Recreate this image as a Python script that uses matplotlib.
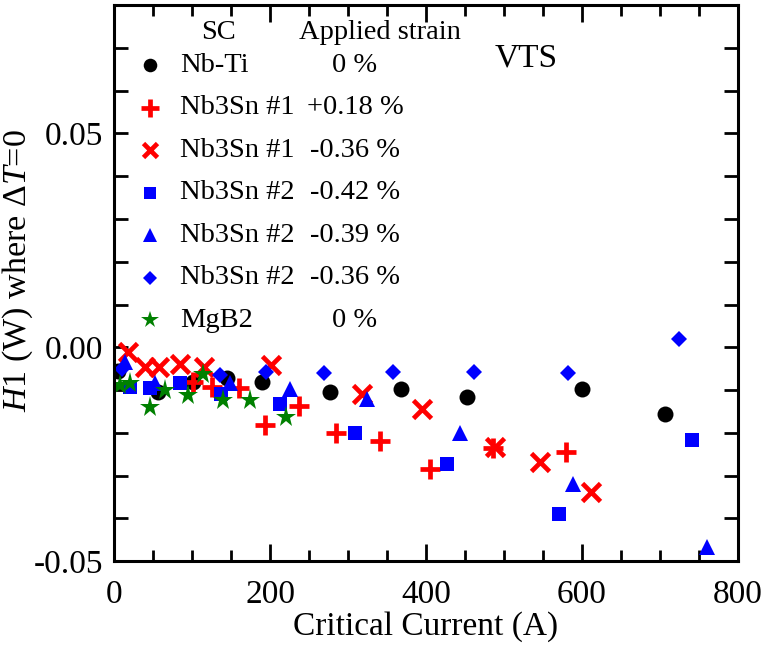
import matplotlib
matplotlib.use("Agg")
import matplotlib.pyplot as plt
from matplotlib.ticker import MultipleLocator

plt.rcParams['font.family'] = ['Liberation Serif', 'DejaVu Serif']
plt.rcParams['mathtext.fontset'] = 'custom'
plt.rcParams['mathtext.rm'] = 'Liberation Serif'
plt.rcParams['mathtext.it'] = 'Liberation Serif:italic'

# --- data (critical current A, H1 W) ---
nbti_x = [5, 56, 101, 145, 190, 277, 368, 452, 600, 706]
nbti_y = [-0.0055, -0.0105, -0.0082, -0.0072, -0.0082, -0.0105, -0.0098, -0.0117, -0.0098, -0.0157]

sn1p_x = [101, 126, 160, 194, 237, 285, 341, 405, 486, 579]
sn1p_y = [-0.0082, -0.0093, -0.0096, -0.0182, -0.0138, -0.0200, -0.0220, -0.0285, -0.0236, -0.0245]

sn1m_x = [18, 40, 58, 85, 115, 201, 318, 395, 488, 546, 611]
sn1m_y = [-0.0010, -0.0047, -0.0047, -0.0038, -0.0047, -0.0042, -0.0110, -0.0145, -0.0232, -0.0269, -0.0339]

sn2a_x = [21, 46, 85, 137, 213, 309, 427, 570, 741]
sn2a_y = [-0.0093, -0.0096, -0.0084, -0.0110, -0.0133, -0.0200, -0.0273, -0.0390, -0.0217]

sn2b_x = [14, 53, 149, 226, 324, 443, 589, 760]
sn2b_y = [-0.0035, -0.0084, -0.0084, -0.0098, -0.0120, -0.0200, -0.0320, -0.0467]

sn2c_x = [10, 136, 195, 269, 358, 462, 582, 724]
sn2c_y = [-0.0050, -0.0065, -0.0058, -0.0060, -0.0058, -0.0058, -0.0060, 0.0019]

mgb2_x = [8, 21, 46, 65, 95, 114, 140, 174, 220]
mgb2_y = [-0.0089, -0.0084, -0.0140, -0.0100, -0.0112, -0.0063, -0.0124, -0.0124, -0.0164]

sc_names = ['Nb-Ti', 'Nb3Sn #1', 'Nb3Sn #1', 'Nb3Sn #2', 'Nb3Sn #2', 'Nb3Sn #2', 'MgB2']
strains = ['0 %', '+0.18 %', '-0.36 %', '-0.42 %', '-0.39 %', '-0.36 %', '0 %']

series = [
    (nbti_x, nbti_y, dict(marker='o', color='black', ms=11.5, mew=0)),
    (sn1p_x, sn1p_y, dict(marker='+', color='red', ms=15, mew=3.4)),
    (sn1m_x, sn1m_y, dict(marker='x', color='red', ms=12.5, mew=3.4)),
    (sn2a_x, sn2a_y, dict(marker='s', color='blue', ms=10, mew=0)),
    (sn2b_x, sn2b_y, dict(marker='^', color='blue', ms=11.5, mew=0)),
    (sn2c_x, sn2c_y, dict(marker='D', color='blue', ms=8.5, mew=0)),
    (mgb2_x, mgb2_y, dict(marker='*', color='#008000', ms=15.5, mew=0)),
]

fig = plt.figure(figsize=(7.62, 6.45), dpi=100)
ax = fig.add_axes([0.1496, 0.130, 0.819, 0.862])

for x, y, st in series:
    ax.plot(x, y, linestyle='none', **st)

ax.set_xlim(0, 800)
ax.set_ylim(-0.05, 0.08)
ax.xaxis.set_major_locator(MultipleLocator(200))
ax.xaxis.set_minor_locator(MultipleLocator(50))
ax.yaxis.set_major_locator(MultipleLocator(0.05))
ax.yaxis.set_minor_locator(MultipleLocator(0.01))
ax.yaxis.set_major_formatter(plt.FormatStrFormatter('%.2f'))
ax.tick_params(which='both', direction='in', top=True, right=True, width=2, labelsize=24)
ax.tick_params(axis='x', which='major', length=12, pad=13)
ax.tick_params(axis='x', which='minor', length=8)
ax.tick_params(axis='y', which='both', length=10, pad=8)
for sp in ax.spines.values():
    sp.set_linewidth(2.2)

ax.set_xlabel('Critical Current (A)', fontsize=24, labelpad=1)
ax.set_ylabel(r'$\mathit{H1}$ (W) where $\Delta \mathit{T}$=0', fontsize=24.5)
ax.yaxis.set_label_coords(-0.127, 0.523)

# hand-made legend table
ax.text(0.167, 0.951, 'SC', transform=ax.transAxes, ha='center', va='center', fontsize=20.5)
ax.text(0.426, 0.951, 'Applied strain', transform=ax.transAxes, ha='center', va='center', fontsize=20.5)
ax.text(0.66, 0.905, 'VTS', transform=ax.transAxes, ha='center', va='center', fontsize=24)
row0, step = 0.892, 0.0764
for i, ((x, y, st), name, s) in enumerate(zip(series, sc_names, strains)):
    ry = row0 - i * step
    lst = dict(st)
    lst['ms'] = st['ms'] * 0.85
    ax.plot([0.0577], [ry], transform=ax.transAxes, clip_on=False, linestyle='none', **lst)
    ax.text(0.106, ry, name, transform=ax.transAxes, ha='left', va='center', fontsize=20.5)
    ax.text(0.386, ry, s, transform=ax.transAxes, ha='center', va='center', fontsize=20.5)

fig.savefig('out.png', dpi=100)
